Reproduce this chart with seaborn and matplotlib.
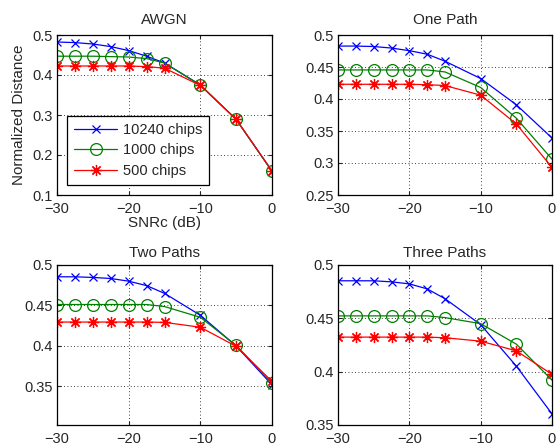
import matplotlib
matplotlib.use("Agg")
import matplotlib.pyplot as plt
import seaborn as sns
import numpy as np

sns.set_style("ticks")
plt.rcParams['font.family'] = ['Liberation Sans', 'DejaVu Sans']

snr = [-30, -27.5, -25, -22.5, -20, -17.5, -15, -10, -5, 0]
series_names = ["10240 chips", "1000 chips", "500 chips"]

awgn_10240 = [0.4825, 0.481, 0.4775, 0.471, 0.461, 0.447, 0.430, 0.375, 0.289, 0.160]
awgn_1000 = [0.447, 0.447, 0.447, 0.446, 0.445, 0.441, 0.430, 0.375, 0.289, 0.159]
awgn_500 = [0.4225, 0.4225, 0.4225, 0.4225, 0.4225, 0.421, 0.417, 0.374, 0.289, 0.160]

one_10240 = [0.4827, 0.4827, 0.482, 0.4796, 0.4755, 0.470, 0.459, 0.432, 0.391, 0.339]
one_1000 = [0.4454, 0.4454, 0.4454, 0.4454, 0.4454, 0.4454, 0.4423, 0.418, 0.370, 0.306]
one_500 = [0.423, 0.423, 0.423, 0.423, 0.423, 0.4224, 0.421, 0.406, 0.361, 0.293]

two_10240 = [0.4854, 0.4854, 0.4846, 0.4833, 0.480, 0.4745, 0.4649, 0.4378, 0.3997, 0.3517]
two_1000 = [0.4511, 0.4511, 0.4511, 0.4511, 0.4511, 0.4511, 0.4486, 0.4353, 0.4005, 0.3538]
two_500 = [0.4294, 0.4294, 0.4294, 0.4294, 0.4294, 0.4294, 0.429, 0.423, 0.3993, 0.356]

three_10240 = [0.4852, 0.4852, 0.4852, 0.4842, 0.4823, 0.4776, 0.4684, 0.4441, 0.4052, 0.3604]
three_1000 = [0.4523, 0.4523, 0.4523, 0.4523, 0.4523, 0.4523, 0.4507, 0.445, 0.4258, 0.392]
three_500 = [0.4324, 0.4324, 0.4324, 0.4324, 0.4324, 0.4324, 0.4318, 0.4286, 0.4195, 0.3975]

panels = [
    ("AWGN", [awgn_10240, awgn_1000, awgn_500], (0.1, 0.5), [0.1, 0.2, 0.3, 0.4, 0.5], ["0.1", "0.2", "0.3", "0.4", "0.5"]),
    ("One Path", [one_10240, one_1000, one_500], (0.25, 0.5), [0.25, 0.3, 0.35, 0.4, 0.45, 0.5], ["0.25", "0.3", "0.35", "0.4", "0.45", "0.5"]),
    ("Two Paths", [two_10240, two_1000, two_500], (0.302, 0.5), [0.35, 0.4, 0.45, 0.5], ["0.35", "0.4", "0.45", "0.5"]),
    ("Three Paths", [three_10240, three_1000, three_500], (0.35, 0.5), [0.35, 0.4, 0.45, 0.5], ["0.35", "0.4", "0.45", "0.5"]),
]

colors = ["#0000ff", "#008000", "#ff0000"]
markers = ["x", "o", (8, 2, 0)]
msizes = [6, 8.5, 8]

W, H = 556, 446
fig = plt.figure(figsize=(W / 100, H / 100), dpi=100)
rects = [
    (57, 35, 272, 195),
    (338, 35, 552, 195),
    (57, 265, 272, 425),
    (338, 265, 552, 425),
]

for i, ((title, data, ylim, yt, ytl), (l, t, r, b)) in enumerate(zip(panels, rects)):
    ax = fig.add_axes([l / W, 1 - b / H, (r - l) / W, (b - t) / H])
    for j, ys in enumerate(data):
        sns.lineplot(x=snr, y=ys, ax=ax, color=colors[j], marker=markers[j],
                     markersize=msizes[j], markerfacecolor='none' if j == 1 else colors[j],
                     markeredgecolor=colors[j], markeredgewidth=0.9, linewidth=0.9,
                     label=series_names[j] if i == 0 else None, legend=False)
    ax.set_xlim(-30, 0)
    ax.set_ylim(*ylim)
    ax.set_xticks([-30, -20, -10, 0])
    ax.set_xticklabels(["\u221230", "\u221220", "\u221210", "0"])
    ax.set_yticks(yt)
    ax.set_yticklabels(ytl)
    ax.grid(True, color='black', linestyle=(0, (1, 3)), linewidth=0.6)
    ax.tick_params(direction='in', top=True, right=True, labelsize=10.5, length=3, width=0.8)
    ax.tick_params(axis='x', pad=5)
    ax.tick_params(axis='y', pad=3)
    for s in ax.spines.values():
        s.set_linewidth(0.9)
        s.set_color('black')
    ax.set_title(title, fontsize=11, pad=8 if i < 2 else 6)
    if i == 0:
        ax.set_xlabel("SNRc (dB)", fontsize=11, labelpad=0)
        ax.set_ylabel("Normalized Distance", fontsize=11, labelpad=5)
        leg = ax.legend(loc='lower left', bbox_to_anchor=(0.047, 0.065), borderaxespad=0,
                        fontsize=10.5, frameon=True, fancybox=False, edgecolor='black', framealpha=1,
                        handlelength=3.0, borderpad=0.45, labelspacing=0.45, handletextpad=0.4)
        leg.get_frame().set_linewidth(0.9)
    else:
        ax.set_xlabel("")
        ax.set_ylabel("")

fig.savefig("out.png", dpi=100)
